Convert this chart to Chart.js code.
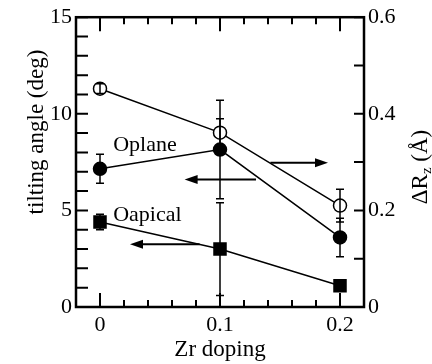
<!DOCTYPE html>
<html>
<head>
<meta charset="utf-8">
<script src="https://cdn.jsdelivr.net/npm/chart.js@4"></script>
<style>
  html, body { margin: 0; padding: 0; background: #fff; }
  #wrap { width: 432px; height: 364px; }
</style>
</head>
<body>
<div id="wrap"><canvas id="myChart"></canvas></div>
<script>
// data
const doping = [0, 0.1, 0.2]
const oplane = [7.15, 8.15, 3.6]
const oplaneErr = [0.75, 2.55, 1.0]
const oapical = [4.4, 3.0, 1.1]
const oapicalErr = [0.4, 2.4, 0.2]
const deltaRz = [0.452, 0.361, 0.21]
const deltaRzErr = [0.01, 0.029, 0.034]

const xTicks = [0, 0.1, 0.2]
const yTicks = [0, 5, 10, 15]
const y2Ticks = [0, 0.2, 0.4, 0.6]

// arrows: [y (left axis), x from, x to]
const arrows = [[6.6, 0.130, 0.0705], [7.47, 0.142, 0.190], [3.25, 0.083, 0.025]]
// text labels: [text, x, y (left axis)]
const notes = [['Oplane', 0.011, 8.35], ['Oapical', 0.011, 4.74]]

const serif = 'Liberation Serif'
const tickFont = { family: serif, size: 22 }

const pts = (ys) => doping.map((x, i) => ({ x: x, y: ys[i] }))

// inward ticks, frame, error bars, arrows, labels, y titles
const extras = {
    id: 'extras',
    beforeDatasetsDraw(chart) {
        const c = chart.ctx
        const a = chart.chartArea
        const sx = chart.scales.x, sy = chart.scales.y, sy2 = chart.scales.y2
        c.save()
        c.strokeStyle = '#000'
        c.lineWidth = 2
        c.beginPath()
        for (let i = -1; i <= 11; i++) {
            const px = sx.getPixelForValue(i * 0.02)
            const len = i % 5 === 0 ? 14 : 7
            c.moveTo(px, a.bottom); c.lineTo(px, a.bottom - len)
            c.moveTo(px, a.top); c.lineTo(px, a.top + len)
        }
        for (let i = 0; i <= 15; i++) {
            const py = sy.getPixelForValue(i)
            c.moveTo(a.left, py); c.lineTo(a.left + 12, py)
        }
        for (let i = 0; i <= 6; i++) {
            const py = sy2.getPixelForValue(i * 0.1)
            c.moveTo(a.right, py); c.lineTo(a.right - 10, py)
        }
        c.stroke()

        // arrows
        c.lineWidth = 2
        arrows.forEach(([y, x0, x1]) => {
            const py = sy.getPixelForValue(y)
            const p0 = sx.getPixelForValue(x0), p1 = sx.getPixelForValue(x1)
            const dir = p1 > p0 ? 1 : -1
            c.beginPath()
            c.moveTo(p0, py); c.lineTo(p1 - dir * 10, py)
            c.stroke()
            c.beginPath()
            c.moveTo(p1, py)
            c.lineTo(p1 - dir * 13, py - 4.5)
            c.lineTo(p1 - dir * 13, py + 4.5)
            c.closePath()
            c.fill()
        })

        // labels
        c.fillStyle = '#000'
        c.font = '22px "' + serif + '"'
        c.textAlign = 'left'
        c.textBaseline = 'middle'
        notes.forEach(([t, x, y]) => {
            c.fillText(t, sx.getPixelForValue(x), sy.getPixelForValue(y))
        })
        c.restore()
    },
    afterDatasetsDraw(chart) {
        const c = chart.ctx
        const a = chart.chartArea
        const sx = chart.scales.x, sy = chart.scales.y, sy2 = chart.scales.y2
        c.save()
        c.strokeStyle = '#000'
        c.lineWidth = 1.5
        const bars = (ys, errs, scale) => {
            ys.forEach((y, i) => {
                const px = sx.getPixelForValue(doping[i])
                const top = scale.getPixelForValue(y + errs[i])
                const bot = scale.getPixelForValue(y - errs[i])
                c.beginPath()
                c.moveTo(px, top); c.lineTo(px, bot)
                c.moveTo(px - 4, top); c.lineTo(px + 4, top)
                c.moveTo(px - 4, bot); c.lineTo(px + 4, bot)
                c.stroke()
            })
        }
        bars(oplane, oplaneErr, sy)
        bars(oapical, oapicalErr, sy)
        bars(deltaRz, deltaRzErr, sy2)

        // frame
        c.lineWidth = 2.5
        c.strokeRect(a.left, a.top, a.right - a.left, a.bottom - a.top)

        // y titles
        c.fillStyle = '#000'
        c.textBaseline = 'middle'
        c.font = '23px "' + serif + '"'
        c.save()
        c.translate(37, 132)
        c.rotate(-Math.PI / 2)
        c.textAlign = 'center'
        c.fillText('tilting angle (deg)', 0, 0)
        c.restore()

        c.save()
        c.translate(421, 167)
        c.rotate(-Math.PI / 2)
        const w1 = c.measureText('ΔR').width
        const w3 = c.measureText(' (Å)').width
        c.font = '15px "' + serif + '"'
        const w2 = c.measureText('z').width
        let x = -(w1 + w2 + w3) / 2
        c.font = '23px "' + serif + '"'
        c.textAlign = 'left'
        c.fillText('ΔR', x, 0)
        x += w1
        c.font = '15px "' + serif + '"'
        c.fillText('z', x, 6)
        x += w2
        c.font = '23px "' + serif + '"'
        c.fillText(' (Å)', x, 0)
        c.restore()
        c.restore()
    }
}

const ctx = document.getElementById('myChart').getContext('2d')
const myChart = new Chart(ctx, {
    type: 'line',
    data: {
        datasets: [{
            label: 'ΔRz',
            data: pts(deltaRz),
            yAxisID: 'y2',
            borderColor: '#000',
            borderWidth: 1.5,
            backgroundColor: '#fff',
            pointBorderColor: '#000',
            pointBorderWidth: 1.5,
            pointRadius: 6.5,
            pointStyle: 'circle'
        }, {
            label: 'Oplane',
            data: pts(oplane),
            yAxisID: 'y',
            borderColor: '#000',
            borderWidth: 1.5,
            backgroundColor: '#000',
            pointRadius: 6.5,
            pointStyle: 'circle'
        }, {
            label: 'Oapical',
            data: pts(oapical),
            yAxisID: 'y',
            borderColor: '#000',
            borderWidth: 1.5,
            backgroundColor: '#000',
            pointRadius: 8.5,
            pointStyle: 'rect'
        }]
    },
    options: {
        responsive: true,
        maintainAspectRatio: false,
        animation: false,
        events: [],
        layout: { padding: { top: 3, left: 0, right: 0, bottom: 0 } },
        plugins: { legend: { display: false }, tooltip: { enabled: false } },
        scales: {
            x: {
                type: 'linear',
                min: -0.02,
                max: 0.22,
                afterBuildTicks: s => { s.ticks = xTicks.map(v => ({ value: v })) },
                afterFit: s => { s.height = 57 },
                grid: { display: false, drawTicks: false },
                border: { display: false },
                ticks: {
                    font: tickFont, color: '#000', padding: 5, maxRotation: 0,
                    callback: v => String(+v.toFixed(1))
                },
                title: { display: true, text: 'Zr doping', font: { family: serif, size: 23 }, color: '#000', padding: 0 }
            },
            y: {
                position: 'left',
                min: 0,
                max: 15,
                afterBuildTicks: s => { s.ticks = yTicks.map(v => ({ value: v })) },
                afterFit: s => { s.width = 76 },
                grid: { display: false, drawTicks: false },
                border: { display: false },
                ticks: { font: tickFont, color: '#000', padding: 4 }
            },
            y2: {
                position: 'right',
                min: 0,
                max: 0.6,
                afterBuildTicks: s => { s.ticks = y2Ticks.map(v => ({ value: v })) },
                afterFit: s => { s.width = 68 },
                grid: { display: false, drawTicks: false },
                border: { display: false },
                ticks: {
                    font: tickFont, color: '#000', padding: 4,
                    callback: v => v === 0 ? '0' : v.toFixed(1)
                }
            }
        }
    },
    plugins: [extras]
})
</script>
</body>
</html>
